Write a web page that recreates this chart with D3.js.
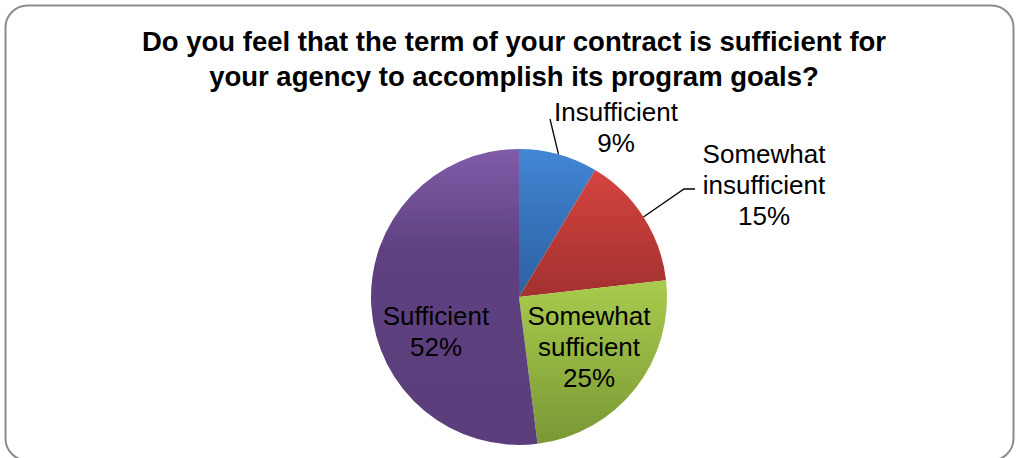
<!DOCTYPE html>
<html><head><meta charset="utf-8">
<script src="https://cdn.jsdelivr.net/npm/d3@7"></script>
<style>html,body{margin:0;padding:0;background:#fff;}svg{display:block;}</style>
</head><body>
<svg id="chart" width="1019" height="458"></svg>
<script>
const titleLines = ["Do you feel that the term of your contract is sufficient for", "your agency to accomplish its program goals?"];
const categories = ["Insufficient", "Somewhat insufficient", "Somewhat sufficient", "Sufficient"];
const labelLines = [["Insufficient"], ["Somewhat", "insufficient"], ["Somewhat", "sufficient"], ["Sufficient"]];
const values = [8.6, 14.6, 24.8, 52.0];
const percentLabels = ["9%", "15%", "25%", "52%"];
const colorsTop = ["#4387d5", "#d5443f", "#a9cb4d", "#805ca8"];
const colorsMid = ["#3672bb", "#bb3a37", "#92b241", "#5f4181"];
const colorsBottom = ["#2d61a2", "#a23130", "#7a9735", "#5a3d7a"];

// layout (label anchors relative to pie centre)
const W = 1019, H = 458, cx = 519, cy = 297, R = 148;
const labelPos = [
  {x: 97, y: -176, leader: [[31, -178]]},
  {x: 245, y: -134, leader: [[165, -108], [176, -108]]},
  {x: 70, y: 28, leader: null},
  {x: -83, y: 28, leader: null}
];
const lineH = 31;

const svg = d3.select("#chart");
svg.append("rect").attr("x", 5.5).attr("y", 5.5).attr("width", 1008).attr("height", 455)
  .attr("rx", 22).attr("ry", 22).attr("fill", "#fff").attr("stroke", "#8c8c8c").attr("stroke-width", 2);

const defs = svg.append("defs");
categories.forEach((c, i) => {
  const g = defs.append("linearGradient").attr("id", "g" + i).attr("x1", 0).attr("y1", 0).attr("x2", 0).attr("y2", 1);
  g.append("stop").attr("offset", "0%").attr("stop-color", colorsTop[i]);
  g.append("stop").attr("offset", i === 3 ? "35%" : "50%").attr("stop-color", colorsMid[i]);
  g.append("stop").attr("offset", "100%").attr("stop-color", colorsBottom[i]);
});

svg.append("g").selectAll("text").data(titleLines).join("text")
  .attr("x", 514).attr("y", (d, i) => 51 + i * 35)
  .attr("text-anchor", "middle").attr("font-family", "Liberation Sans, Arial, sans-serif")
  .attr("font-weight", "bold").attr("font-size", 27.5).attr("fill", "#000").text(d => d);

const pie = d3.pie().sort(null).value(d => d)(values);
const arc = d3.arc().innerRadius(0).outerRadius(R);
const g = svg.append("g").attr("transform", `translate(${cx},${cy})`);
g.selectAll("path").data(pie).join("path")
  .attr("d", arc).attr("fill", (d, i) => `url(#g${i})`);

const edge = d3.arc().innerRadius(R).outerRadius(R);
pie.forEach((d, i) => {
  const lp = labelPos[i];
  if (lp.leader) {
    const p0 = edge.centroid(d);
    const pts = [p0, ...lp.leader];
    g.append("path").attr("d", d3.line()(pts)).attr("fill", "none").attr("stroke", "#000").attr("stroke-width", 1.3);
  }
  const lines = [...labelLines[i], percentLabels[i]];
  const t = g.append("text").attr("text-anchor", "middle")
    .attr("font-family", "Liberation Sans, Arial, sans-serif").attr("font-size", 26).attr("fill", "#000");
  lines.forEach((s, k) => t.append("tspan").attr("x", lp.x).attr("y", lp.y + k * lineH).text(s));
});
</script>
</body></html>
